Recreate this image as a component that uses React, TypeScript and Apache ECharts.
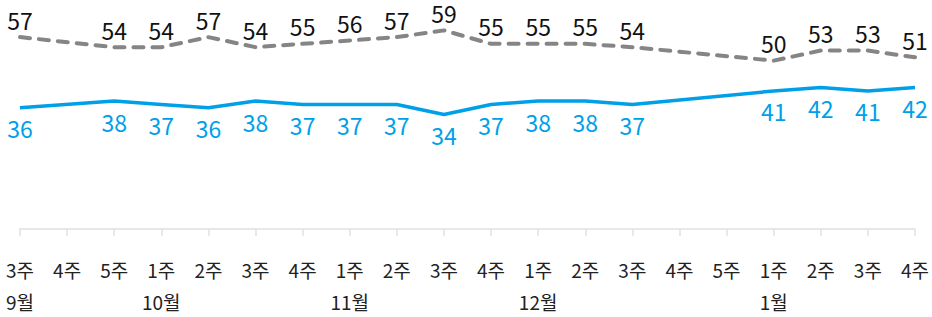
import React, { useEffect, useRef } from "react";
import * as echarts from "echarts";

const weeks = ["3주", "4주", "5주", "1주", "2주", "3주", "4주", "1주", "2주", "3주", "4주", "1주", "2주", "3주", "4주", "5주", "1주", "2주", "3주", "4주"];
const months = ["9월", "", "", "10월", "", "", "", "11월", "", "", "", "12월", "", "", "", "", "1월", "", "", ""];
const grayValues = [57, null, 54, 54, 57, 54, 55, 56, 57, 59, 55, 55, 55, 54, null, null, 50, 53, 53, 51];
const blueValues = [36, null, 38, 37, 36, 38, 37, 37, 37, 34, 37, 38, 38, 37, null, null, 41, 42, 41, 42];

const FONT = "'Noto Sans CJK KR', 'Noto Sans', sans-serif";

export default function App() {
  const ref = useRef<HTMLDivElement>(null);
  useEffect(() => {
    if (!ref.current) return;
    const chart = echarts.init(ref.current, null, { renderer: "svg" });
    chart.setOption({
      animation: false,
      textStyle: { fontFamily: FONT },
      grid: { left: 20, right: 14, top: 27, bottom: 85, containLabel: false },
      xAxis: {
        type: "category",
        data: weeks,
        boundaryGap: false,
        axisLine: { lineStyle: { color: "#e0e0e0", width: 1.5 } },
        axisTick: { show: true, length: 7, lineStyle: { color: "#e0e0e0", width: 1.5 } },
        axisLabel: {
          interval: 0,
          margin: 24,
          fontSize: 19,
          lineHeight: 32,
          color: "#222",
          fontFamily: FONT,
          formatter: (v: string, i: number) => (months[i] ? v + "\n" + months[i] : v),
        },
      },
      yAxis: {
        type: "value",
        min: 0,
        max: 60,
        show: false,
        splitLine: { show: false },
      },
      series: [
        {
          type: "line",
          data: grayValues,
          connectNulls: true,
          showSymbol: true,
          symbol: "circle",
          symbolSize: 1,
          itemStyle: { color: "rgba(0,0,0,0)", borderWidth: 0 },
          lineStyle: { color: "#858585", width: 4, type: [10, 9], cap: "round" },
          label: {
            show: true,
            position: "top",
            distance: 7,
            fontSize: 23,
            lineHeight: 20,
            opacity: 1,
            color: "#111",
            fontFamily: FONT,
          },
        },
        {
          type: "line",
          data: blueValues,
          connectNulls: true,
          showSymbol: true,
          symbol: "circle",
          symbolSize: 1,
          itemStyle: { color: "rgba(0,0,0,0)", borderWidth: 0 },
          lineStyle: { color: "#00a0e9", width: 3.5 },
          label: {
            show: true,
            position: "bottom",
            distance: 9,
            fontSize: 23,
            lineHeight: 22,
            opacity: 1,
            color: "#00a0e9",
            fontFamily: FONT,
          },
        },
      ],
    });
    return () => chart.dispose();
  }, []);
  return <div ref={ref} style={{ width: 932, height: 317, position: "absolute", left: 0, top: 0 }} />;
}
